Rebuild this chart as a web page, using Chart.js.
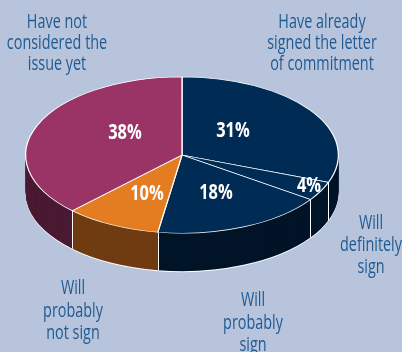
<!DOCTYPE html>
<html>
<head>
<meta charset="utf-8">
<script src="https://cdn.jsdelivr.net/npm/chart.js@4"></script>
<style>
  html, body { margin: 0; padding: 0; background: #b7c4dc; }
  canvas { display: block; }
</style>
</head>
<body>
<canvas id="pieChart" width="402" height="352"></canvas>
<script>
var categories = [
  ["Have already", "signed the letter", "of commitment"],
  ["Will", "definitely", "sign"],
  ["Will", "probably", "sign"],
  ["Will", "probably", "not sign"],
  ["Have not", "considered the", "issue yet"],
];
var values = [31, 4, 18, 10, 38];
var topColors = ["#002b55", "#002b55", "#002b55", "#e47c22", "#9a3366"];
var sideColors = ["#001428", "#001428", "#001428", "#703c12", "#4a1a33"];

// where the texts go: centre x, centre y of each line
var categoryPos = [
  { x: 322, y: [22, 43, 64] },
  { x: 371, y: [223, 245, 267] },
  { x: 253, y: [300, 323, 345] },
  { x: 73, y: [288, 311, 333] },
  { x: 57, y: [22, 43, 64] },
];
var valuePos = [
  { x: 233, y: 131 },
  { x: 309, y: 186 },
  { x: 216, y: 193 },
  { x: 147, y: 194 },
  { x: 125, y: 133 },
];

var centerY = 155;
var squash = 0.5;
var depth = 38;

// moves drawing into the flattened pie at a given drop below the top face
function flatten(ctx, arc, drop) {
  ctx.translate(0, centerY + drop);
  ctx.scale(1, squash);
  ctx.translate(0, -arc.y);
}

function drawLayer(ctx, arcs, drop, colors) {
  arcs.forEach(function (arc, i) {
    var saved = arc.options;
    arc.options = Object.assign({}, saved, {
      backgroundColor: colors ? colors[i] : "#ffffff",
      borderWidth: 0,
    });
    ctx.save();
    flatten(ctx, arc, drop);
    arc.draw(ctx);
    ctx.restore();
    arc.options = saved;
  });
}

var tiltPlugin = {
  id: "tilt",
  beforeDatasetsDraw: function (chart) {
    var ctx = chart.ctx;
    var arcs = chart.getDatasetMeta(0).data;
    var arc0 = arcs[0];

    // rim: white hairline below, then the stacked darker wall
    drawLayer(ctx, arcs, depth + 1, null);
    for (var d = depth; d >= 1; d--) {
      drawLayer(ctx, arcs, d, sideColors);
    }

    // white seams on the wall where slices meet
    ctx.strokeStyle = "#ffffff";
    ctx.lineWidth = 1;
    arcs.forEach(function (arc) {
      var a = arc.startAngle;
      if (Math.sin(a) <= 0.02) return;
      var x = Math.round(arc.x + arc.outerRadius * Math.cos(a)) + 0.5;
      var y = centerY + arc.outerRadius * Math.sin(a) * squash;
      ctx.beginPath();
      ctx.moveTo(x, y);
      ctx.lineTo(x, y + depth);
      ctx.stroke();
    });

    ctx.save();
    flatten(ctx, arc0, 0);
  },
  afterDatasetsDraw: function (chart) {
    chart.ctx.restore();
  },
  afterDraw: function (chart) {
    var ctx = chart.ctx;
    ctx.save();
    ctx.textAlign = "center";
    ctx.textBaseline = "middle";

    ctx.fillStyle = "#1f5a92";
    ctx.font = "20px 'Open Sans'";
    categories.forEach(function (lines, i) {
      lines.forEach(function (line, j) {
        ctx.save();
        ctx.translate(categoryPos[i].x, categoryPos[i].y[j]);
        ctx.scale(0.72, 1);
        ctx.fillText(line, 0, 0);
        ctx.restore();
      });
    });

    ctx.fillStyle = "#ffffff";
    ctx.font = "bold 21px 'Open Sans'";
    values.forEach(function (v, i) {
      ctx.save();
      ctx.translate(valuePos[i].x, valuePos[i].y);
      ctx.scale(0.78, 1);
      ctx.fillText(v + "%", 0, 0);
      ctx.restore();
    });
    ctx.restore();
  },
};

var ctx = document.getElementById("pieChart").getContext("2d");
var myChart = new Chart(ctx, {
  type: "pie",
  data: {
    labels: categories.map(function (c) { return c.join(" "); }),
    datasets: [
      {
        data: values,
        backgroundColor: topColors,
        borderColor: "#ffffff",
        borderWidth: 1.3,
        clip: false,
      },
    ],
  },
  options: {
    responsive: false,
    animation: false,
    events: [],
    layout: { padding: { left: 25, right: 63, top: 19, bottom: 19 } },
    plugins: {
      legend: { display: false },
      tooltip: { enabled: false },
    },
  },
  plugins: [tiltPlugin],
});
</script>
</body>
</html>
